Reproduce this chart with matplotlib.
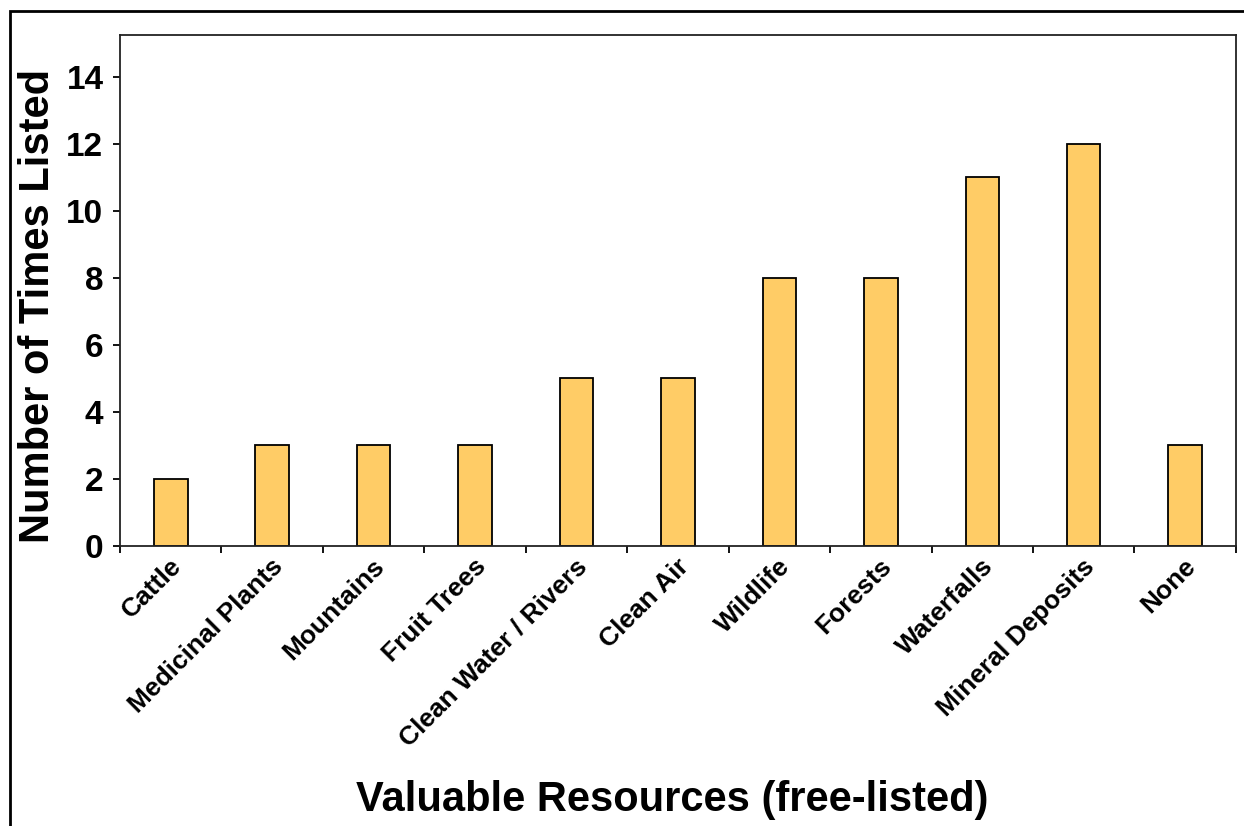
import numpy as np
import matplotlib.pyplot as plt
from matplotlib.patches import Rectangle

resources = ['Cattle', 'Medicinal Plants', 'Mountains', 'Fruit Trees',
             'Clean Water / Rivers', 'Clean Air', 'Wildlife', 'Forests',
             'Waterfalls', 'Mineral Deposits', 'None']
times_listed = [2, 3, 3, 3, 5, 5, 8, 8, 11, 12, 3]

plt.rcParams['font.family'] = ['Liberation Sans', 'DejaVu Sans']
plt.rcParams['font.weight'] = 'bold'

fig = plt.figure(figsize=(12.44, 8.26), dpi=100)
ax = fig.add_axes([0.0965, 0.339, 0.897, 0.6185])

x = np.arange(len(resources))
ax.bar(x, times_listed, width=0.33, color='#FFCC66', edgecolor='black', linewidth=1.3)

ax.set_xlim(-0.5, len(resources) - 0.5)
ax.set_ylim(0, 15.25)
ax.set_yticks(np.arange(0, 15, 2))
ax.tick_params(axis='y', labelsize=24, length=5, width=1.3, direction='out', pad=7)

# category ticks sit between the bars, labels under the bar centres
ax.set_xticks(np.arange(-0.5, len(resources) + 0.5, 1))
ax.set_xticklabels([])
ax.tick_params(axis='x', length=5, width=1.3, direction='out')
for i, name in enumerate(resources):
    ax.annotate(name, xy=(i, 0), xycoords=('data', 'axes fraction'),
                xytext=(5, -12), textcoords='offset points',
                rotation=45, rotation_mode='anchor', ha='right', va='center',
                fontsize=19, fontweight='bold')

for sp in ax.spines.values():
    sp.set_linewidth(1.3)
    sp.set_color('#222222')

ax.set_ylabel('Number of Times Listed', fontsize=30, fontweight='bold')
ax.yaxis.set_label_coords(-0.056, 0.47)
fig.text(0.540, 0.032, 'Valuable Resources (free-listed)', fontsize=30,
         fontweight='bold', ha='center', va='center')

# outer chart border
fig.patches.append(Rectangle((10 / 1244, -0.05), 1.2, 1 - 11 / 826 + 0.05,
                             transform=fig.transFigure, fill=False,
                             edgecolor='black', linewidth=2))

fig.savefig('out.png', dpi=100)
